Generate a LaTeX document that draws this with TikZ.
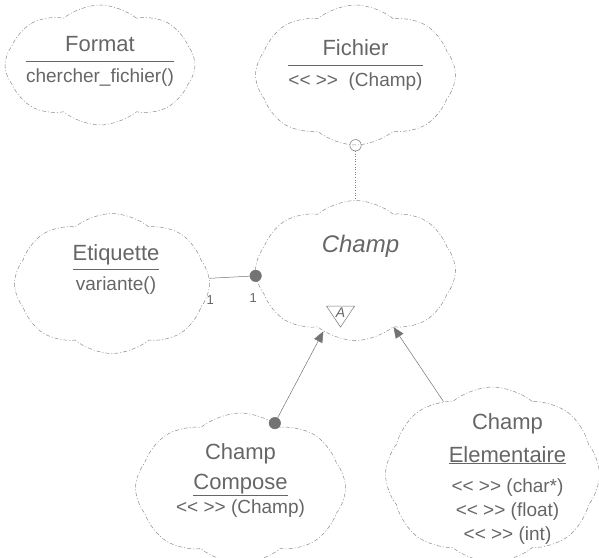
\documentclass[tikz,border=0pt]{standalone}
\usepackage{fontspec}
\newfontfamily\classfont{Liberation Sans}
\usepackage{tikz}
\usetikzlibrary{shapes.symbols, shapes.geometric, arrows.meta, positioning}
\newcommand\cname[1]{{\fontsize{22}{28}\selectfont #1}}
\renewcommand\arraystretch{1.25}
\tikzset{
  classcloud/.style={cloud, cloud puffs=8, cloud puff arc=80, draw=black!45,
    dash pattern=on 4pt off 2pt on 1pt off 2pt, line width=0.5pt, inner sep=0pt},
  classtext/.style={anchor=center, text=black!60, font=\classfont\fontsize{19}{24}\selectfont,
    align=center, inner sep=0pt},
  classname/.style={anchor=center, text=black!60, font=\classfont\fontsize{24}{28}\selectfont\itshape},
  abstractmark/.style={isosceles triangle, shape border rotate=-90,
    isosceles triangle stretches, minimum width=28pt, minimum height=18pt,
    draw=black!55, line width=0.5pt, inner sep=0pt, text=black!60,
    font=\classfont\fontsize{14}{16}\selectfont\itshape},
  uses/.style={draw=black!50, dotted, line width=0.6pt},
  has/.style={draw=black!55, line width=0.5pt},
  mult/.style={text=black!60, font=\classfont\fontsize{13}{15}\selectfont}
}

\begin{document}
\begin{tikzpicture}[x=1pt, y=1pt]
\useasboundingbox (0,0) rectangle (599,-557);

% classes
\node (format) [classcloud, minimum width=190pt, minimum height=120pt,
  label={[classtext, yshift=4pt]center:\begin{tabular}{@{}c@{}}\cname{Format}\\\hline chercher\_fichier()\end{tabular}}]
  at (100,-65) {};
\node (fichier) [classcloud, minimum width=200pt, minimum height=140pt,
  right=60pt of format, yshift=-10pt,
  label={[classtext, yshift=10pt]center:\begin{tabular}{@{}c@{}}\cname{Fichier}\\\hline << >> \ (Champ)\end{tabular}}] {};
\node (etiquette) [classcloud, minimum width=195pt, minimum height=140pt,
  below=88pt of format, xshift=12pt,
  label={[classtext, xshift=4pt, yshift=14pt]center:\begin{tabular}{@{}c@{}}\cname{Etiquette}\\\hline variante()\end{tabular}}] {};
\node (champ) [classcloud, minimum width=200pt, minimum height=140pt,
  below=55pt of fichier,
  label={[classname, xshift=5pt, yshift=24pt]center:Champ}] {};
\node (abstr) [abstractmark] at ([xshift=-15pt, yshift=-42pt]champ.center) {A};
\node (compose) [classcloud, minimum width=210pt, minimum height=150pt,
  below=72pt of champ, xshift=-115pt,
  label={[classtext, yshift=8pt]center:\cname{Champ}\\[6pt]\cname{\underline{Compose}}\\<< >> (Champ)}] {};
\node (elementaire) [classcloud, minimum width=214pt, minimum height=175pt,
  below=46pt of champ, xshift=137pt,
  label={[classtext, xshift=15pt, yshift=-4pt]center:\cname{Champ}\\[9pt]\cname{\underline{Elementaire}}\\[6pt]<< >> (char*)\\<< >> (float)\\<< >> (int)}] {};

% relations
\draw [uses, {Circle[open, length=12pt]}-, shorten <=-6pt] (fichier) -- (champ);
\draw [has, -{Circle[length=12pt]}, shorten >=-6pt] (etiquette)
  -- node[mult, pos=0.02, below=14pt]{1} node[mult, pos=0.95, below=14pt]{1} (champ);
\draw [has, {Circle[length=12pt]}-{Triangle[length=11pt, width=9pt]}, shorten <=-6pt]
  (compose) -- (champ);
\draw [has, -{Triangle[length=11pt, width=9pt]}] (elementaire) -- (champ);
\end{tikzpicture}
\end{document}
